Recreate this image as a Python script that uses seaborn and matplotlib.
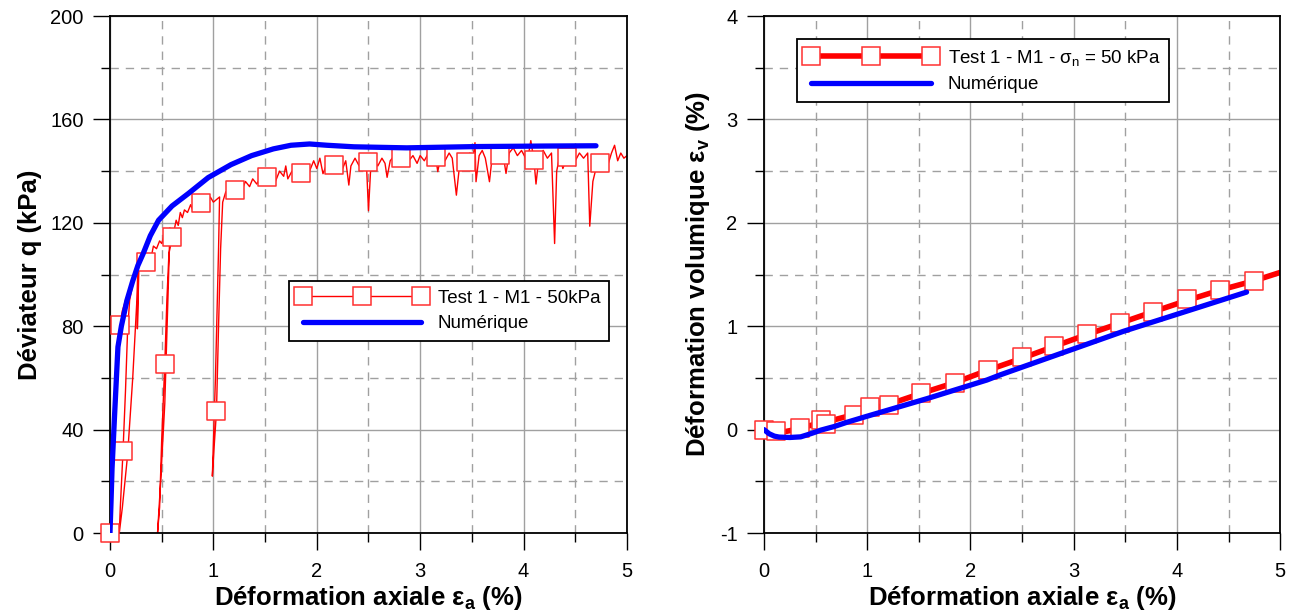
import matplotlib
matplotlib.use('Agg')
import matplotlib.pyplot as plt
from matplotlib.lines import Line2D
from matplotlib.ticker import MultipleLocator
import seaborn as sns

# Left panel: deviator q vs axial strain (experimental path incl. unload/reload loops)
exp_ea = [0, 0.02, 0.04, 0.06, 0.08, 0.094, 0.12, 0.15, 0.18, 0.21, 0.24, 0.27,
          0.26, 0.22, 0.17, 0.12, 0.09,
          0.10, 0.126, 0.15, 0.17, 0.19, 0.22, 0.25, 0.27, 0.265, 0.28,
          0.30, 0.32, 0.345, 0.37, 0.40, 0.42, 0.45, 0.48, 0.50, 0.53, 0.56, 0.58,
          0.56, 0.53, 0.49, 0.46,
          0.48, 0.50, 0.53, 0.55, 0.57, 0.60, 0.62, 0.64, 0.66, 0.68, 0.70, 0.72,
          0.75, 0.78, 0.80, 0.83, 0.86, 0.88, 0.91, 0.94, 0.97, 1.00, 1.06,
          1.05, 1.02, 0.99,
          1.01, 1.03, 1.05, 1.07, 1.09, 1.12, 1.15, 1.18, 1.21, 1.25, 1.28, 1.31,
          1.35, 1.38, 1.42, 1.46, 1.50, 1.52, 1.56, 1.60, 1.64, 1.68, 1.70, 1.72,
          1.76, 1.80, 1.85, 1.90, 1.93, 1.97, 2.00, 2.03, 2.06, 2.10, 2.14, 2.17,
          2.21, 2.25, 2.28, 2.31, 2.33, 2.37, 2.41, 2.45, 2.48, 2.50, 2.52, 2.55,
          2.59, 2.63, 2.66, 2.68, 2.71, 2.75, 2.78, 2.81, 2.85, 2.89, 2.93, 2.97,
          3.00, 3.04, 3.08, 3.12, 3.15, 3.17, 3.20, 3.24, 3.28, 3.31, 3.35, 3.38,
          3.41, 3.44, 3.48, 3.51, 3.53, 3.54, 3.57, 3.60, 3.63, 3.67, 3.70, 3.73,
          3.77, 3.80, 3.83, 3.86, 3.90, 3.94, 3.98, 4.02, 4.05, 4.07, 4.10, 4.12,
          4.15, 4.19, 4.23, 4.27, 4.30, 4.32, 4.35, 4.38, 4.42, 4.46, 4.50, 4.54,
          4.58, 4.62, 4.64, 4.67, 4.70, 4.74, 4.78, 4.82, 4.85, 4.88, 4.91, 4.94,
          4.97, 5.00]
exp_q = [0, 20, 42, 62, 75, 80.5, 86, 90, 93, 97, 100, 103,
         90, 60, 30, 10, 0,
         10, 31.7, 55, 78, 90, 96, 100, 103, 79, 103,
         102, 106, 105, 108, 107, 111, 110, 113, 112, 116, 115, 118,
         90, 50, 20, 0,
         10, 36, 65.4, 90, 108, 114.4, 117, 121, 119, 124, 122, 125,
         124, 127, 125, 128, 126, 127.5, 129, 127, 130, 128, 130,
         110, 60, 22,
         35, 47.1, 80, 110, 128, 132, 130, 133, 132.7, 135, 133, 136,
         134, 137, 135, 138, 136, 137.8, 139, 136, 140, 138, 142, 137,
         140, 139, 139.4, 142, 140, 144, 141, 145, 139, 143, 141, 142.3,
         144, 141, 144, 134.6, 142, 145, 142, 144, 143, 124.7, 140, 144,
         142, 145, 143, 137.6, 144, 146, 143, 144.9, 147, 144, 146, 143,
         146, 144, 147, 145, 145.3, 139.8, 146, 144, 147, 145, 130.7, 142,
         146, 143.6, 147, 145, 151, 135.9, 146, 148, 145, 135.9, 147, 149,
         146.2, 147, 139.1, 147, 149, 146, 148, 145, 147, 151.8, 144.3, 135,
         146, 148, 145, 147, 112, 140, 146, 141, 145.6, 148, 144, 147,
         145, 147, 118.7, 136, 141, 143, 145, 143, 147, 150, 144, 147,
         145, 146]
mark_ea = [0, 0.094, 0.126, 0.345, 0.53, 0.60, 0.88, 1.03, 1.21, 1.52, 1.85,
           2.17, 2.50, 2.81, 3.15, 3.44, 3.77, 4.10, 4.42, 4.74]
mark_q = [0, 80.5, 31.7, 105, 65.4, 114.4, 127.5, 47.1, 132.7, 137.8, 139.4,
          142.3, 143.6, 144.9, 145.3, 143.6, 146.2, 144.3, 145.6, 143]
num_ea = [0, 0.01, 0.02, 0.045, 0.077, 0.11, 0.164, 0.22, 0.27, 0.32, 0.39,
          0.47, 0.60, 0.76, 0.95, 1.17, 1.37, 1.58, 1.75, 1.93, 2.10, 2.36,
          2.87, 3.55, 4.20, 4.70]
num_q = [0, 12, 25, 46, 72, 80, 90, 97.5, 103.5, 108, 115,
         121, 126.5, 131.4, 137.5, 142.5, 146, 148.6, 150, 150.5, 150, 149.4,
         149, 149.5, 149.7, 149.8]

# Right panel: volumetric strain vs axial strain
vol_ea = [0, 0.05, 0.113, 0.20, 0.30, 0.35, 0.45, 0.55, 0.60, 0.70, 0.87,
          1.03, 1.21, 1.52, 1.85, 2.17, 2.50, 2.81, 3.13, 3.45, 3.77, 4.10,
          4.42, 4.75, 5.00]
vol_ev = [0, -0.02, -0.03, -0.02, 0.0, 0.02, 0.04, 0.07, 0.06, 0.10, 0.145,
          0.20, 0.245, 0.35, 0.455, 0.575, 0.69, 0.805, 0.92, 1.03, 1.14, 1.25,
          1.35, 1.44, 1.52]
vmark_ea = [0, 0.113, 0.35, 0.55, 0.60, 0.87, 1.03, 1.21, 1.52, 1.85, 2.17,
            2.50, 2.81, 3.13, 3.45, 3.77, 4.10, 4.42, 4.75]
vmark_ev = [0, -0.01, 0.02, 0.09, 0.05, 0.145, 0.22, 0.24, 0.35, 0.45, 0.58,
            0.70, 0.81, 0.925, 1.03, 1.14, 1.26, 1.35, 1.44]
vnum_ea = [0, 0.05, 0.10, 0.145, 0.25, 0.355, 0.42, 0.48, 0.55, 0.68, 0.80,
           1.00, 1.58, 2.16, 2.29, 3.48, 4.675]
vnum_ev = [0, -0.04, -0.063, -0.072, -0.076, -0.07, -0.05, -0.03, -0.005, 0.03, 0.07,
           0.13, 0.30, 0.48, 0.53, 0.95, 1.33]

sns.set_style('white')
plt.rcParams['font.family'] = ['Liberation Sans', 'DejaVu Sans']
plt.rcParams['mathtext.fontset'] = 'custom'
plt.rcParams['mathtext.rm'] = 'Liberation Sans'
plt.rcParams['mathtext.it'] = 'Liberation Sans:italic'
plt.rcParams['mathtext.bf'] = 'Liberation Sans:bold'
plt.rcParams['axes.unicode_minus'] = False
for k in ['text.color', 'axes.labelcolor', 'xtick.color', 'ytick.color']:
    plt.rcParams[k] = 'black'

RED = '#ff0000'
MEC = '#ff3030'
BLUE = '#0000ff'

fig = plt.figure(figsize=(13, 6.16), dpi=100)
ax1 = fig.add_axes([0.0846, 0.1347, 0.3977, 0.8393])
ax2 = fig.add_axes([0.5877, 0.1347, 0.3970, 0.8393])


def style_axis(ax, ymin, ymax, ymaj, ymin_step):
    ax.set_xlim(0, 5)
    ax.set_ylim(ymin, ymax)
    ax.xaxis.set_major_locator(MultipleLocator(1))
    ax.xaxis.set_minor_locator(MultipleLocator(0.5))
    ax.yaxis.set_major_locator(MultipleLocator(ymaj))
    ax.yaxis.set_minor_locator(MultipleLocator(ymin_step))
    ax.grid(True, which='major', color='#a0a0a0', lw=1.0, ls='-')
    ax.grid(True, which='minor', color='#a0a0a0', lw=1.0, ls=(0, (6, 5)))
    ax.set_axisbelow(True)
    ax.tick_params(which='both', bottom=True, left=True, top=False, right=False)
    ax.tick_params(which='major', direction='out', length=12, width=1,
                   color='black', labelcolor='black', labelsize=14.5)
    ax.tick_params(which='minor', direction='out', length=6.5, width=1,
                   color='black')
    ax.tick_params(axis='x', which='major', pad=9)
    ax.tick_params(axis='y', which='major', pad=7)
    for s in ax.spines.values():
        s.set_color('black')
        s.set_linewidth(1.3)
    ax.set_xlabel('Déformation axiale ε$_\\mathbf{a}$ (%)', fontsize=18.5,
                  fontweight='bold', labelpad=2)


# ---- left panel
style_axis(ax1, 0, 200, 40, 20)
sns.lineplot(x=exp_ea, y=exp_q, sort=False, estimator=None, color=RED, lw=1,
             ax=ax1, zorder=2)
sns.scatterplot(x=mark_ea, y=mark_q, marker='s', s=160, facecolor='white',
                edgecolor=MEC, linewidth=1.1, ax=ax1, zorder=3, clip_on=False)
sns.lineplot(x=num_ea, y=num_q, sort=False, estimator=None, color=BLUE, lw=3.8,
             ax=ax1, zorder=4, solid_joinstyle='round', solid_capstyle='round')
ax1.set_ylabel('Déviateur q (kPa)', fontsize=18.5, fontweight='bold', labelpad=6)

h1 = [Line2D([], [], color=RED, lw=1, marker='s', ms=12.5, mfc='white',
             mec=MEC, mew=1.1),
      Line2D([], [], color=BLUE, lw=3.8, solid_capstyle='round')]
leg1 = ax1.legend(h1, ['Test 1 - M1 - 50kPa', 'Numérique'], loc='upper left',
                  bbox_to_anchor=(0.346, 0.487), borderaxespad=0, numpoints=3,
                  handlelength=6.9, handletextpad=0.6, fontsize=13.5,
                  frameon=True, fancybox=False, edgecolor='black',
                  framealpha=1, borderpad=0.45, labelspacing=0.45)
leg1.get_frame().set_linewidth(1.3)

# ---- right panel
style_axis(ax2, -1, 4, 1, 0.5)
sns.lineplot(x=vol_ea, y=vol_ev, sort=False, estimator=None, color=RED, lw=4,
             ax=ax2, zorder=2)
sns.scatterplot(x=vmark_ea, y=vmark_ev, marker='s', s=160, facecolor='white',
                edgecolor=MEC, linewidth=1.1, ax=ax2, zorder=3, clip_on=False)
sns.lineplot(x=vnum_ea, y=vnum_ev, sort=False, estimator=None, color=BLUE, lw=3.8,
             ax=ax2, zorder=4, solid_joinstyle='round', solid_capstyle='round')
ax2.set_ylabel('Déformation volumique ε$_\\mathbf{v}$ (%)', fontsize=18.5,
               fontweight='bold', labelpad=6)

h2 = [Line2D([], [], color=RED, lw=4, marker='s', ms=12.5, mfc='white',
             mec=MEC, mew=1.1),
      Line2D([], [], color=BLUE, lw=3.8, solid_capstyle='round')]
leg2 = ax2.legend(h2, ['Test 1 - M1 - σ$_\\mathrm{n}$ = 50 kPa', 'Numérique'],
                  loc='upper left', bbox_to_anchor=(0.064, 0.955),
                  borderaxespad=0, numpoints=3, handlelength=7.0,
                  handletextpad=0.6, fontsize=13.5, frameon=True,
                  fancybox=False, edgecolor='black', framealpha=1,
                  borderpad=0.45, labelspacing=0.45)
leg2.get_frame().set_linewidth(1.3)

fig.savefig('out.png', dpi=100)
